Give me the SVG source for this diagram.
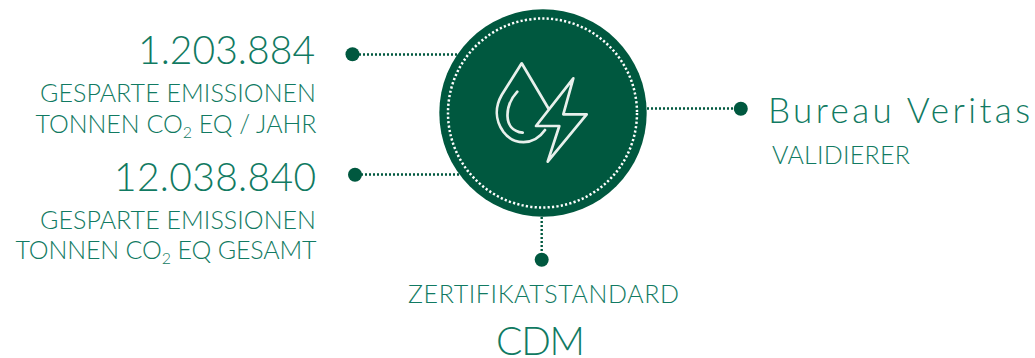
<svg xmlns="http://www.w3.org/2000/svg" width="1035" height="358" viewBox="0 0 1035 358">
<style>
text{font-family:"Lato","Noto Sans",sans-serif;font-weight:300;fill:#117a62}
.num{font-size:39px}
.cap{font-size:25px}
.sub{font-size:16px}
.conn{fill:none;stroke:#00583f;stroke-width:2.4;stroke-dasharray:2 2}
.dot{fill:#00583f}
.icon{fill:none;stroke:#e8f0ec;stroke-width:2.7;stroke-linejoin:round;stroke-linecap:round}
</style>
<rect width="1035" height="358" fill="#ffffff"/>
<g id="connectors">
<path class="conn" d="M359 54.500H458"/>
<path class="conn" d="M361 174.500H462"/>
<path class="conn" d="M647 108.500H735"/>
<path class="conn" d="M541.700 217V254"/>
<circle class="dot" cx="352.500" cy="54.300" r="7"/>
<circle class="dot" cx="355" cy="174.700" r="7"/>
<circle class="dot" cx="740.800" cy="108.700" r="7"/>
<circle class="dot" cx="541.700" cy="259.700" r="7"/>
</g>
<g id="hub">
<circle cx="543" cy="113" r="103.700" fill="#00583f"/>
<circle cx="542.500" cy="113" r="94.500" fill="none" stroke="#ffffff" stroke-width="2.5" stroke-dasharray="2.200 2.200"/>
<path class="icon" d="M548.300 108.300L521.700 63.300L501.700 95C495 106.700 495 120 503.300 131.700C513.300 145 533.300 146.700 545 130"/>
<path class="icon" d="M517.300 91.700C505 105 501.700 130 522.700 132.700"/>
<path class="icon" d="M573.300 78.300L536 126H559.300L547.700 161.700L586.700 114.300H563.300Z"/>
</g>
<g id="stat-annual">
<text class="num" x="138" y="64.300" textLength="177" lengthAdjust="spacing">1.203.884</text>
<text class="cap" x="40" y="102" textLength="276" lengthAdjust="spacing">GESPARTE EMISSIONEN</text>
<text class="cap" x="35.500" y="132.700" textLength="281" lengthAdjust="spacing">TONNEN CO<tspan class="sub" dy="5">2</tspan><tspan dy="-5"> EQ / JAHR</tspan></text>
</g>
<g id="stat-total">
<text class="num" x="114" y="190.700" textLength="202" lengthAdjust="spacing">12.038.840</text>
<text class="cap" x="40" y="229" textLength="276" lengthAdjust="spacing">GESPARTE EMISSIONEN</text>
<text class="cap" x="15.500" y="259" textLength="301" lengthAdjust="spacing">TONNEN CO<tspan class="sub" dy="5">2</tspan><tspan dy="-5"> EQ GESAMT</tspan></text>
</g>
<g id="validator">
<text class="num" style="font-size:35px" x="768" y="122.700" textLength="262" lengthAdjust="spacing">Bureau Veritas</text>
<text class="cap" x="772" y="164" textLength="138" lengthAdjust="spacing">VALIDIERER</text>
</g>
<g id="standard">
<text class="cap" x="408" y="303" textLength="271" lengthAdjust="spacing">ZERTIFIKATSTANDARD</text>
<text class="num" x="496" y="355" textLength="89" lengthAdjust="spacing">CDM</text>
</g>
</svg>
